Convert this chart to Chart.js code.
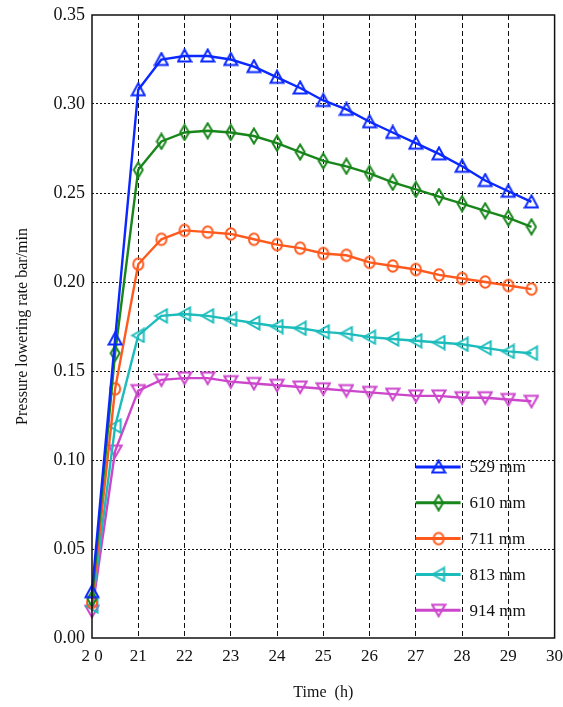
<!DOCTYPE html>
<html>
<head>
<meta charset="utf-8">
<script src="https://cdn.jsdelivr.net/npm/chart.js@4/dist/chart.umd.min.js"></script>
<style>
  html, body { margin: 0; padding: 0; background: #fff; }
  #wrap { width: 563px; height: 707px; }
</style>
</head>
<body>
<div id="wrap"><canvas id="chart-canvas" width="563" height="707"></canvas></div>
<script>
const times = [20, 20.5, 21, 21.5, 22, 22.5, 23, 23.5, 24, 24.5, 25, 25.5, 26, 26.5, 27, 27.5, 28, 28.5, 29, 29.5];

const rate529 = [0.026, 0.168, 0.308, 0.325, 0.327, 0.327, 0.325, 0.321, 0.315, 0.309, 0.302, 0.297, 0.290, 0.284, 0.278, 0.272, 0.265, 0.257, 0.251, 0.245];
const rate610 = [0.022, 0.160, 0.263, 0.279, 0.284, 0.285, 0.284, 0.282, 0.278, 0.273, 0.268, 0.265, 0.261, 0.256, 0.252, 0.248, 0.244, 0.240, 0.236, 0.231];
const rate711 = [0.020, 0.140, 0.210, 0.224, 0.229, 0.228, 0.227, 0.224, 0.221, 0.219, 0.216, 0.215, 0.211, 0.209, 0.207, 0.204, 0.202, 0.200, 0.198, 0.196];
const rate813 = [0.018, 0.119, 0.170, 0.181, 0.182, 0.181, 0.179, 0.177, 0.175, 0.174, 0.172, 0.171, 0.169, 0.168, 0.167, 0.166, 0.165, 0.163, 0.161, 0.160];
const rate914 = [0.015, 0.105, 0.139, 0.145, 0.146, 0.146, 0.144, 0.143, 0.142, 0.141, 0.140, 0.139, 0.138, 0.137, 0.136, 0.136, 0.135, 0.135, 0.134, 0.133];

const seriesLabels = ['529 mm', '610 mm', '711 mm', '813 mm', '914 mm'];
const xTickLabels = ['2 0', '21', '22', '23', '24', '25', '26', '27', '28', '29', '30'];
const yTickLabels = ['0.00', '0.05', '0.10', '0.15', '0.20', '0.25', '0.30', '0.35'];

const FONT = '"Liberation Serif", "Times New Roman", serif';

// hollow marker images, drawn once
function makeMarker(kind, color) {
    const c = document.createElement('canvas');
    const w = kind === 'diamond' ? 12 : 16;
    const h = kind === 'diamond' ? 18 : 16;
    c.width = w; c.height = h;
    const g = c.getContext('2d');
    g.strokeStyle = color;
    g.lineWidth = 2;
    g.beginPath();
    if (kind === 'up') {
        g.moveTo(8, 1.5); g.lineTo(14.5, 13.5); g.lineTo(1.5, 13.5); g.closePath();
    } else if (kind === 'down') {
        g.moveTo(1.5, 2.5); g.lineTo(14.5, 2.5); g.lineTo(8, 14); g.closePath();
    } else if (kind === 'left') {
        g.moveTo(2, 8); g.lineTo(13.5, 1.5); g.lineTo(13.5, 14.5); g.closePath();
    } else if (kind === 'diamond') {
        g.moveTo(6, 1.5); g.lineTo(10.5, 9); g.lineTo(6, 16.5); g.lineTo(1.5, 9); g.closePath();
    } else {
        g.ellipse(8, 8, 5, 5.8, 0, 0, Math.PI * 2);
    }
    g.stroke();
    return c;
}

const colors = ['#0a28ff', '#18861a', '#ff5a1e', '#1cbcbc', '#cc46cc'];
const markerKinds = ['up', 'diamond', 'circle', 'left', 'down'];
const allRates = [rate529, rate610, rate711, rate813, rate914];

const datasets = allRates.map((rates, i) => ({
    label: seriesLabels[i],
    data: times.map((t, j) => ({ x: t, y: rates[j] })),
    borderColor: colors[i],
    backgroundColor: colors[i],
    borderWidth: 2.4,
    pointStyle: makeMarker(markerKinds[i], colors[i]),
    pointRadius: 6,
    clip: false,
    tension: 0
}));

const frameAndLegend = {
    id: 'frameAndLegend',
    afterDraw(chart) {
        const { ctx, chartArea } = chart;
        ctx.save();
        ctx.strokeStyle = '#111';
        ctx.lineWidth = 1.5;
        ctx.setLineDash([]);
        ctx.strokeRect(chartArea.left, chartArea.top, chartArea.right - chartArea.left, chartArea.bottom - chartArea.top);

        // legend in lower right of the plot
        const x0 = chartArea.right - 139;
        const y0 = chartArea.bottom - 171;
        ctx.font = '17px ' + FONT;
        ctx.textBaseline = 'middle';
        ctx.textAlign = 'left';
        chart.data.datasets.forEach((ds, i) => {
            const y = y0 + i * 35.8;
            ctx.strokeStyle = ds.borderColor;
            ctx.lineWidth = 3;
            ctx.beginPath();
            ctx.moveTo(x0, y);
            ctx.lineTo(x0 + 45, y);
            ctx.stroke();
            const img = ds.pointStyle;
            ctx.drawImage(img, x0 + 23 - img.width / 2, y - img.height / 2);
            ctx.fillStyle = '#111';
            ctx.fillText(ds.label, x0 + 54, y + 1);
        });
        ctx.restore();
    }
};

function init() {
    const ctx = document.getElementById('chart-canvas').getContext('2d');
    new Chart(ctx, {
        type: 'line',
        data: { datasets: datasets },
        options: {
            responsive: false,
            animation: false,
            layout: { padding: { top: 15, right: 6, left: 0, bottom: 0 } },
            plugins: {
                legend: { display: false },
                tooltip: { enabled: false }
            },
            scales: {
                x: {
                    type: 'linear',
                    min: 20,
                    max: 30,
                    afterFit: (scale) => { scale.height = 69; scale.paddingRight = 0; scale.paddingLeft = 0; },
                    ticks: {
                        stepSize: 1,
                        padding: 8,
                        color: '#111',
                        font: { family: FONT, size: 17 },
                        maxRotation: 0,
                        callback: (v) => xTickLabels[Math.round(v - 20)]
                    },
                    grid: {
                        color: (c) => (c.tick && (c.tick.value === 20 || c.tick.value === 30)) ? 'rgba(0,0,0,0)' : '#111',
                        drawTicks: false,
                        lineWidth: 1
                    },
                    border: { display: false, dash: [5, 3] },
                    title: {
                        display: true,
                        text: 'Time  (h)',
                        color: '#111',
                        font: { family: FONT, size: 16 },
                        padding: { top: 0, bottom: 5 }
                    }
                },
                y: {
                    min: 0,
                    max: 0.35,
                    afterFit: (scale) => { scale.width = 92; scale.paddingTop = 0; scale.paddingBottom = 0; },
                    ticks: {
                        stepSize: 0.05,
                        padding: 7,
                        color: '#111',
                        font: { family: FONT, size: 18 },
                        callback: (v) => yTickLabels[Math.round(v / 0.05)]
                    },
                    grid: {
                        color: (c) => (c.tick && (c.index === 0 || c.index === 7)) ? 'rgba(0,0,0,0)' : '#111',
                        drawTicks: false,
                        lineWidth: 1
                    },
                    border: { display: false, dash: [2, 2] },
                    title: {
                        display: true,
                        text: 'Pressure lowering rate bar/min',
                        color: '#111',
                        font: { family: FONT, size: 16 },
                        padding: { top: 13, bottom: 0 }
                    }
                }
            }
        },
        plugins: [frameAndLegend]
    });
}

document.addEventListener('DOMContentLoaded', init);
</script>
</body>
</html>
